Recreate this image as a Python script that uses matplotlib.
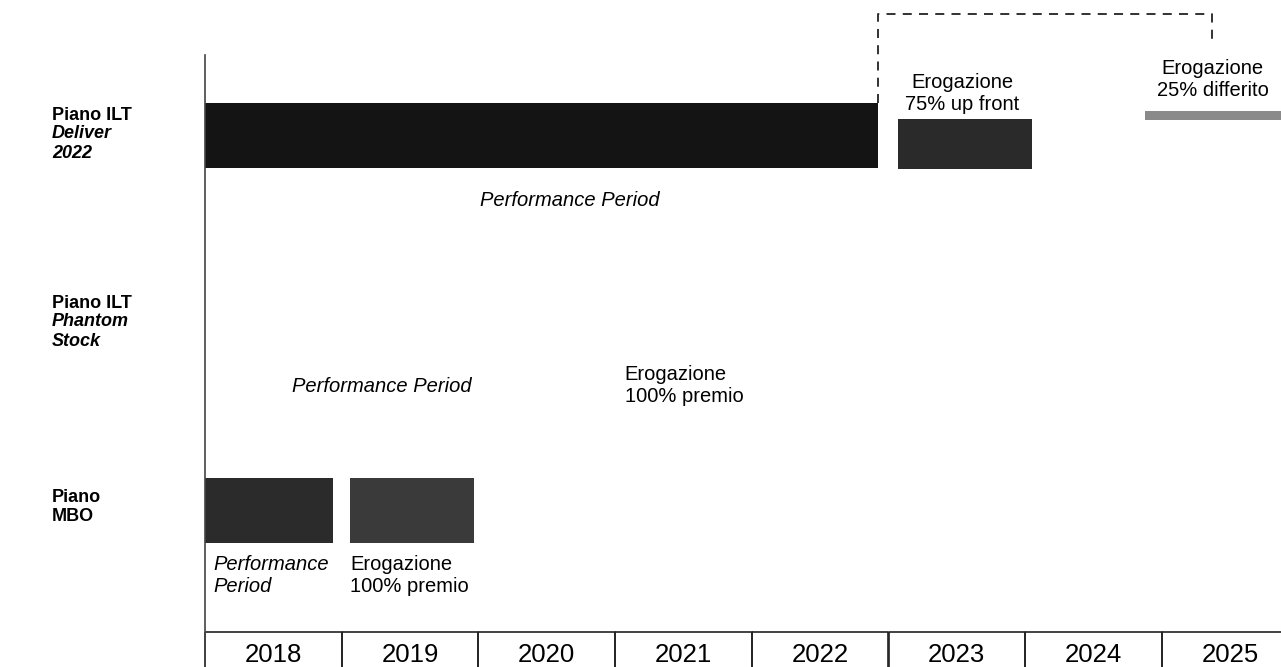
import numpy as np
import matplotlib.pyplot as plt
from matplotlib.patches import Rectangle

plt.rcParams['font.family'] = ['Liberation Sans', 'DejaVu Sans']

years = [2018, 2019, 2020, 2021, 2022, 2023, 2024, 2025]

# Piano ILT Deliver 2022 (start, end in years)
deliver_start = [2018.0, 2023.07, 2024.88]
deliver_end = [2022.92, 2024.05, 2026.0]
deliver_color = ['#141414', '#2a2a2a', '#8a8a8a']

# Piano MBO
mbo_start = [2018.0, 2019.06]
mbo_end = [2018.94, 2019.97]
mbo_color = ['#2b2b2b', '#3a3a3a']

# dashed bracket for deferred payment
defer_from = 2022.92
defer_to = 2025.37

row_labels = [('Piano ILT', 'Deliver', '2022'), ('Piano ILT', 'Phantom', 'Stock'), ('Piano', 'MBO')]

fig = plt.figure(figsize=(12.81, 6.67), dpi=100)
ax = fig.add_axes([0, 0, 1, 1])
col = 136.7
ax.set_xlim(2018 - 205 / col, 2018 + (1281 - 205) / col)
ax.set_ylim(667, 0)
ax.axis('off')

fs = 14.5
ls2 = 1.2

# vertical axis line
ax.plot([2018, 2018], [55, 667], color='#444444', lw=1.2)

# Deliver row
for s, e, c, (y0, y1) in zip(deliver_start, deliver_end, deliver_color, [(103, 168), (119, 169), (111, 120)]):
    ax.add_patch(Rectangle((s, y0), e - s, y1 - y0, color=c, lw=0))
ax.text(2020.67, 201, 'Performance Period', style='italic', fontsize=fs,
        ha='center', va='center')
ax.text((deliver_start[1] + deliver_end[1]) / 2 - 0.02, 93, 'Erogazione\n75% up front', fontsize=fs,
        ha='center', va='center', linespacing=ls2)
ax.text(defer_to, 79, 'Erogazione\n25% differito', fontsize=fs, ha='center', va='center', linespacing=ls2)
ax.plot([defer_from, defer_from, defer_to, defer_to], [103, 14, 14, 45], color='#222222', lw=1.3,
        ls=(0, (5, 4)))

# Phantom Stock row
ax.text(2019.29, 387, 'Performance Period', style='italic', fontsize=fs, ha='center', va='center')
ax.text(2021.07, 386, 'Erogazione\n100% premio', fontsize=fs, ha='left', va='center', linespacing=ls2)

# MBO row
for s, e, c in zip(mbo_start, mbo_end, mbo_color):
    ax.add_patch(Rectangle((s, 478), e - s, 65, color=c, lw=0))
ax.text(2018.06, 575, 'Performance\nPeriod', style='italic', fontsize=fs, ha='left', va='center',
        linespacing=ls2)
ax.text(mbo_start[1] + 0.0, 575, 'Erogazione\n100% premio', fontsize=fs, ha='left', va='center',
        linespacing=ls2)

# row labels
label_y = [134, 322, 507]
for lines, yc in zip(row_labels, label_y):
    n = len(lines)
    for k, t in enumerate(lines):
        yy = yc + (k - (n - 1) / 2) * 19
        st = 'normal' if k == 0 else 'italic'
        if t == 'MBO':
            st = 'normal'
        ax.text(52 / col + ax.get_xlim()[0], yy, t, fontsize=13, fontweight='bold', style=st,
                ha='left', va='center')

# year boxes
for i, yr in enumerate(years):
    x0 = 2018 + i
    ax.add_patch(Rectangle((x0, 632), 1, 60, fill=False, ec='#222222', lw=1.2))
    ax.text(x0 + 0.5, 655, str(yr), fontsize=18.5, ha='center', va='center')

fig.savefig('out.png', dpi=100)
